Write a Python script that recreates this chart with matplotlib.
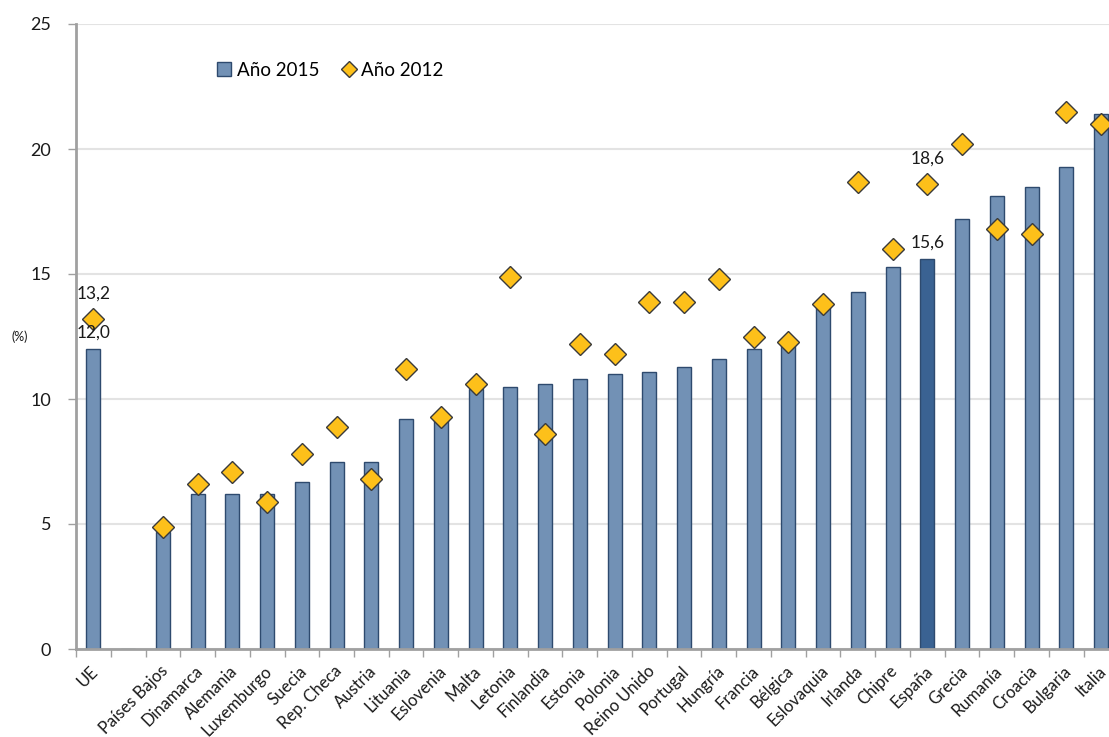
import matplotlib.pyplot as plt
from matplotlib.lines import Line2D
from matplotlib.patches import Patch
from matplotlib.transforms import ScaledTranslation
import numpy as np

plt.rcParams["font.family"] = ["Lato", "DejaVu Sans"]

# Countries sorted by 2015 value, EU average first and an empty slot after it
countries = [
    "UE", "", "Países Bajos", "Dinamarca", "Alemania", "Luxemburgo", "Suecia",
    "Rep. Checa", "Austria", "Lituania", "Eslovenia", "Malta", "Letonia",
    "Finlandia", "Estonia", "Polonia", "Reino Unido", "Portugal", "Hungría",
    "Francia", "Bélgica", "Eslovaquia", "Irlanda", "Chipre", "España",
    "Grecia", "Rumanía", "Croacia", "Bulgaria", "Italia",
]
year_2015 = [
    12.0, np.nan, 4.7, 6.2, 6.2, 6.2, 6.7, 7.5, 7.5, 9.2, 9.4, 10.4, 10.5,
    10.6, 10.8, 11.0, 11.1, 11.3, 11.6, 12.0, 12.2, 13.8, 14.3, 15.3, 15.6,
    17.2, 18.1, 18.5, 19.3, 21.4,
]
year_2012 = [
    13.2, np.nan, 4.9, 6.6, 7.1, 5.9, 7.8, 8.9, 6.8, 11.2, 9.3, 10.6, 14.9,
    8.6, 12.2, 11.8, 13.9, 13.9, 14.8, 12.5, 12.3, 13.8, 18.7, 16.0, 18.6,
    20.2, 16.8, 16.6, 21.5, 21.0,
]
labelled = ["UE", "España"]

BAR = "#7291b5"
BAR_EDGE = "#2e4a6e"
SPAIN = "#3a6292"
DIAMOND = "#fdc01a"
AXIS_GREY = "#a0a0a0"

fig = plt.figure(figsize=(11.09, 7.37), dpi=100)
ax = fig.add_axes([76 / 1109, 88 / 737, 1042.5 / 1109, 625 / 737])

x = np.arange(len(countries))
colors = [SPAIN if c == "España" else BAR for c in countries]
ax.bar(x, np.nan_to_num(year_2015), width=0.41, color=colors,
       edgecolor=BAR_EDGE, linewidth=1.0, zorder=2)
ax.plot(x, year_2012, linestyle="none", marker="D", markersize=11,
        markerfacecolor=DIAMOND, markeredgecolor="#3a3a3a",
        markeredgewidth=1.0, zorder=3)

# value labels for EU and Spain
for name in labelled:
    i = countries.index(name)
    ax.annotate(f"{year_2015[i]:.1f}".replace(".", ","), (x[i], year_2015[i]),
                xytext=(0, 12), textcoords="offset points", ha="center",
                va="center", fontsize=12.5, color="#1a1a1a")
    ax.annotate(f"{year_2012[i]:.1f}".replace(".", ","), (x[i], year_2012[i]),
                xytext=(0, 18), textcoords="offset points", ha="center",
                va="center", fontsize=12.5, color="#1a1a1a")

ax.set_xlim(-0.5, len(countries) - 0.5)
ax.set_ylim(0, 25)
ax.set_yticks([0, 5, 10, 15, 20, 25])
ax.yaxis.grid(True, color="#e3e3e3", linewidth=1.5, zorder=0)
ax.set_axisbelow(True)

# tick marks between categories, labels at category centres
ax.set_xticks(np.arange(-0.5, len(countries), 1.0))
ax.set_xticklabels([])
ax.set_xticks(x, minor=True)
ax.set_xticklabels(countries, minor=True, rotation=45, ha="right",
                   rotation_mode="anchor", fontsize=12, color="#1a1a1a")
ax.tick_params(axis="x", which="major", length=6, width=1, color=AXIS_GREY)
ax.tick_params(axis="x", which="minor", length=0, pad=10)
ax.tick_params(axis="y", length=6, width=1, color=AXIS_GREY, labelsize=13,
               labelcolor="#1a1a1a", pad=12)

# nudge the slanted names a little to the left
shift = ScaledTranslation(-3 / 100, 0, fig.dpi_scale_trans)
for lbl in ax.get_xticklabels(minor=True):
    lbl.set_transform(lbl.get_transform() + shift)

for side in ["top", "right"]:
    ax.spines[side].set_visible(False)
for side in ["left", "bottom"]:
    ax.spines[side].set_color(AXIS_GREY)
    ax.spines[side].set_linewidth(2)

fig.text(20 / 1109, 1 - 337 / 737, "(%)", fontsize=9, ha="center",
         va="center", color="#1a1a1a")

handles = [
    Patch(facecolor=BAR, edgecolor=BAR_EDGE, linewidth=1.0),
    Line2D([], [], linestyle="none", marker="D", markersize=8,
           markerfacecolor=DIAMOND, markeredgecolor="#3a3a3a",
           markeredgewidth=1.0),
]
fig.legend(handles, ["Año 2015", "Año 2012"], loc="center left",
           bbox_to_anchor=(200 / 1109, 1 - 70 / 737), ncol=2, frameon=False,
           fontsize=13.5, handlelength=0.75, handleheight=0.75,
           handletextpad=0.3, columnspacing=1.2)

fig.savefig("out.png", dpi=100)
